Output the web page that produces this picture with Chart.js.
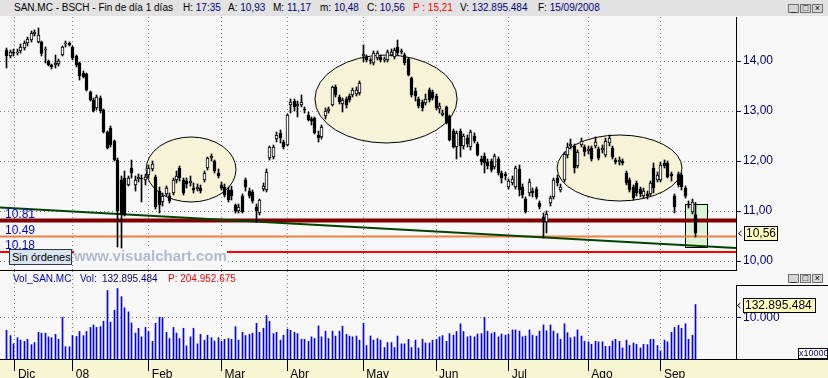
<!DOCTYPE html>
<html lang="es">
<head>
<meta charset="UTF-8" />
<title>SAN.MC - BSCH</title>
<script src="https://cdn.jsdelivr.net/npm/chart.js"></script>
<style>
  html, body { margin: 0; padding: 0; }
  body { width: 828px; height: 378px; overflow: hidden; position: relative; background: #f8f8f8;
         font-family: "Liberation Sans", Arial, sans-serif; }
  .abs { position: absolute; white-space: nowrap; }
  .hd { font-size: 10px; line-height: 12px; color: #000; }
  .nv { color: #000080; }
  .rd { color: #ff0000; }
  .bl { color: #0000cc; }
  .btn { width: 11px; height: 9px; box-sizing: border-box; border: 1px solid #707070; background: #d6d6d6;
         font-size: 9px; line-height: 7px; text-align: center; color: #000; }
</style>
</head>
<body>
  <div class="abs" style="left:0;top:0;width:828px;height:16px;background:#e2e2e2;"></div>
  <span class="abs hd" style="left:14px;top:2px;">SAN.MC - BSCH - Fin de día 1 días</span>
  <span class="abs hd" style="left:183px;top:2px;">H: <span class="nv">17:35</span></span>
  <span class="abs hd" style="left:228px;top:2px;">A: <span class="nv">10,93</span></span>
  <span class="abs hd" style="left:273px;top:2px;">M: <span class="nv">11,17</span></span>
  <span class="abs hd" style="left:320px;top:2px;">m: <span class="nv">10,48</span></span>
  <span class="abs hd" style="left:367px;top:2px;">C: <span class="nv">10,56</span></span>
  <span class="abs hd rd" style="left:413px;top:2px;">P : 15,21</span>
  <span class="abs hd" style="left:460px;top:2px;">V: <span class="nv">132.895.484</span></span>
  <span class="abs hd" style="left:538px;top:2px;">F: <span class="nv">15/09/2008</span></span>
  <div class="abs btn" style="left:788px;top:4px;">_</div>
  <div class="abs btn" style="left:800px;top:4px;">□</div>
  <div class="abs btn" style="left:812px;top:4px;">×</div>

  <div class="abs" style="left:0;top:359px;width:828px;height:19px;box-sizing:border-box;border-top:1px solid #000;background:#f6f6d3;"></div>
  <div class="abs" style="left:736px;top:285px;width:92px;height:75px;box-sizing:border-box;border-left:1px solid #000;border-top:1px solid #000;"></div>
  <div class="abs" style="left:0;top:270px;width:737px;height:1px;background:#000;"></div>

  <canvas id="priceChart" class="abs" width="828" height="253" style="left:0;top:17px;"></canvas>
  <canvas id="volChart" class="abs" width="828" height="107" style="left:0;top:271px;"></canvas>

  <div class="abs" style="left:9px;top:249px;width:63px;height:16px;box-sizing:border-box;border:1px solid #303848;background:#d8e4f0;font-size:11px;line-height:14px;padding-left:2px;">Sin órdenes</div>
  <div class="abs" style="left:74px;top:249px;font-size:15px;font-weight:bold;line-height:14px;color:#b2b9d2;background:#f8f8f8;">www.visualchart.com</div>

  <span class="abs hd bl" style="left:13px;top:273px;">Vol_SAN.MC</span>
  <span class="abs hd bl" style="left:80px;top:273px;">Vol:</span>
  <span class="abs hd nv" style="left:102px;top:273px;">132.895.484</span>
  <span class="abs hd rd" style="left:168px;top:273px;">P: 204.952.675</span>
  <div class="abs btn" style="left:788px;top:274px;">_</div>
  <div class="abs btn" style="left:800px;top:274px;">□</div>
  <div class="abs btn" style="left:812px;top:274px;">×</div>
  <div class="abs" style="left:798px;top:348px;width:30px;height:11px;box-sizing:border-box;border:1px solid #000;background:#fff;font-size:9px;line-height:9px;color:#000080;text-align:center;">x10000</div>

<script>
  // daily candles, 3 Dec 2007 .. 15 Sep 2008 (index 0..199)
  const opens = [
    14.22,14.10,14.18,14.16,14.20,14.26,14.36,14.42,14.54,14.38,
    14.38,14.22,14.00,13.92,13.92,13.94,14.12,14.34,14.36,14.28,
    14.10,13.96,13.76,13.74,13.38,13.22,13.06,13.26,13.02,12.58,
    12.66,12.40,12.02,11.62,11.66,11.52,11.86,11.52,11.64,11.66,
    11.62,11.72,11.84,11.68,11.40,11.18,11.34,11.30,11.36,11.62,
    11.86,11.62,11.60,11.56,11.46,11.44,11.46,11.62,11.86,12.06,
    12.00,11.76,11.52,11.48,11.42,11.42,11.12,11.00,11.30,11.62,
    11.40,11.38,11.08,10.96,11.44,11.42,12.06,12.08,12.44,12.56,
    12.38,12.32,13.12,13.20,13.10,13.12,13.04,12.92,12.84,12.86,
    12.52,12.48,12.90,13.00,13.12,13.48,13.28,13.14,13.24,13.30,
    13.32,13.34,13.36,14.10,14.08,14.02,13.96,14.06,14.08,14.02,
    14.02,14.12,14.08,14.28,14.20,14.12,14.04,13.66,13.40,13.24,
    13.18,13.16,13.42,13.38,13.30,13.04,12.92,13.08,12.90,12.60,
    12.28,12.60,12.30,12.46,12.28,12.50,12.34,12.04,12.10,11.98,
    12.00,11.88,12.04,11.76,11.74,11.48,11.56,11.48,11.84,11.48,
    11.24,11.36,11.40,11.44,11.16,10.88,10.78,11.16,11.28,11.66,
    11.42,11.62,12.12,12.30,12.30,11.90,12.32,12.28,12.20,12.26,
    12.30,12.24,12.22,12.12,12.36,12.26,12.02,11.98,12.00,11.76,
    11.62,11.48,11.56,11.44,11.30,11.34,11.34,11.86,11.62,11.62,
    11.96,11.96,11.74,11.30,11.74,11.72,11.46,11.14,10.98,10.93
  ];
  const highs = [
    14.26,14.22,14.24,14.24,14.34,14.40,14.48,14.60,14.62,14.66,
    14.40,14.28,14.02,13.94,14.12,14.04,14.30,14.40,14.38,14.30,
    14.12,13.98,13.80,13.76,13.40,13.26,13.32,13.30,13.04,12.60,
    12.70,12.42,12.06,11.70,11.80,11.70,12.02,11.70,11.74,11.72,
    11.74,11.92,12.00,11.72,11.48,11.36,11.50,11.36,11.66,11.80,
    11.90,11.66,11.66,11.70,11.56,11.54,11.52,11.80,12.08,12.14,
    12.02,11.84,11.58,11.54,11.48,11.50,11.14,11.14,11.34,11.66,
    11.46,11.42,11.14,11.24,11.56,11.84,12.30,12.32,12.58,12.62,
    12.42,12.94,13.24,13.24,13.20,13.32,13.08,12.98,12.88,12.88,
    12.60,12.72,13.06,13.08,13.50,13.52,13.32,13.26,13.28,13.34,
    13.46,13.48,13.60,14.32,14.12,14.06,14.20,14.20,14.12,14.08,
    14.22,14.24,14.26,14.42,14.24,14.16,14.06,13.68,13.46,13.28,
    13.22,13.34,13.46,13.42,13.34,13.16,13.02,13.10,12.92,12.64,
    12.60,12.64,12.54,12.52,12.62,12.56,12.38,12.10,12.16,12.04,
    12.04,12.14,12.08,11.80,11.78,11.64,11.70,11.90,11.92,11.54,
    11.28,11.64,11.46,11.48,11.20,10.96,11.00,11.30,11.66,11.72,
    11.54,12.18,12.36,12.44,12.34,12.22,12.46,12.32,12.30,12.30,
    12.48,12.28,12.32,12.46,12.52,12.30,12.06,12.08,12.04,11.80,
    11.66,11.52,11.60,11.48,11.46,11.40,11.60,11.96,11.78,11.98,
    12.02,12.00,11.78,11.34,11.78,11.76,11.50,11.20,11.24,11.17
  ];
  const lows = [
    13.86,14.06,14.10,14.12,14.16,14.22,14.30,14.38,14.50,14.36,
    14.10,13.96,13.90,13.84,13.86,13.90,14.10,14.28,14.30,14.02,
    13.88,13.62,13.66,13.40,13.20,12.98,13.02,12.96,12.56,12.24,
    12.28,12.00,10.28,10.26,10.90,11.50,11.66,11.40,11.58,11.18,
    11.52,11.66,11.80,11.04,10.96,11.10,11.30,11.16,11.32,11.56,
    11.60,11.32,11.46,11.50,11.36,11.40,11.36,11.58,11.82,12.00,
    11.76,11.66,11.42,11.28,11.18,11.22,10.96,10.96,10.96,11.40,
    11.26,11.16,10.78,10.92,11.40,11.38,12.02,12.04,12.38,12.36,
    12.24,12.30,12.96,13.00,12.88,13.08,12.96,12.80,12.72,12.54,
    12.38,12.44,12.84,12.96,13.10,13.28,13.14,12.98,13.06,13.18,
    13.28,13.30,13.32,13.98,13.98,13.94,13.92,14.02,13.98,13.98,
    13.98,14.10,14.04,14.12,14.14,13.92,13.70,13.28,13.20,13.06,
    13.00,13.12,13.18,13.22,13.02,12.96,12.90,12.74,12.40,12.26,
    12.04,12.08,12.24,12.28,12.22,12.36,12.10,11.92,11.76,11.84,
    11.78,11.84,11.72,11.56,11.62,11.44,11.52,11.44,11.30,11.26,
    10.96,11.30,11.28,11.24,11.04,10.46,10.56,11.10,11.24,11.50,
    11.38,11.58,12.06,12.24,11.76,11.86,12.28,12.10,12.14,12.00,
    12.26,12.02,12.16,12.08,12.30,12.04,11.94,11.92,11.92,11.52,
    11.38,11.22,11.30,11.28,11.26,11.24,11.30,11.36,11.58,11.58,
    11.86,11.66,11.60,10.96,11.48,11.42,11.26,11.06,10.94,10.48
  ];
  const closes = [
    14.10,14.18,14.16,14.18,14.28,14.36,14.44,14.56,14.58,14.52,
    14.15,14.24,13.92,13.88,13.96,14.00,14.28,14.36,14.32,14.06,
    13.92,13.70,13.68,13.42,13.22,13.00,13.28,13.00,12.58,12.26,
    12.32,12.02,11.00,10.95,10.92,11.66,11.76,11.62,11.68,11.64,
    11.68,11.86,11.94,11.08,11.12,11.30,11.46,11.20,11.62,11.70,
    11.66,11.36,11.54,11.60,11.42,11.48,11.40,11.76,12.06,12.10,
    11.80,11.70,11.46,11.32,11.22,11.30,11.00,11.08,10.98,11.48,
    11.30,11.20,11.00,11.22,11.50,11.78,12.28,12.28,12.52,12.46,
    12.28,12.92,13.18,13.08,13.14,13.18,13.02,12.82,12.80,12.56,
    12.46,12.68,13.00,13.04,13.48,13.32,13.18,13.22,13.12,13.22,
    13.42,13.42,13.56,14.14,14.02,14.00,14.16,14.16,14.02,14.04,
    14.18,14.18,14.22,14.16,14.18,13.96,13.72,13.32,13.30,13.10,
    13.06,13.24,13.22,13.26,13.06,13.10,12.96,12.76,12.42,12.28,
    12.56,12.30,12.50,12.34,12.58,12.40,12.12,11.98,11.96,11.90,
    11.82,12.10,11.76,11.66,11.70,11.60,11.64,11.86,11.42,11.32,
    10.98,11.58,11.36,11.28,11.08,10.82,10.94,11.26,11.62,11.56,
    11.48,12.14,12.28,12.34,11.86,12.18,12.40,12.18,12.24,12.04,
    12.38,12.06,12.26,12.40,12.46,12.08,11.98,12.02,11.96,11.56,
    11.42,11.26,11.36,11.34,11.40,11.30,11.56,11.46,11.72,11.92,
    11.90,11.68,11.70,11.08,11.52,11.48,11.30,11.12,11.18,10.56
  ];
  // volume in millions of shares
  const volumes = [
    70,57,37,52,46,43,48,35,40,65,
    63,63,54,52,60,48,102,30,30,57,
    55,67,57,67,77,83,77,79,92,167,
    90,119,172,152,125,115,88,63,75,54,
    77,67,43,87,102,101,65,50,77,63,
    50,75,32,54,75,37,60,46,58,52,
    44,52,43,48,50,48,79,46,65,57,
    60,63,87,65,75,106,92,62,65,46,
    58,73,70,65,62,48,48,43,54,50,
    81,54,68,50,68,56,68,80,60,56,
    54,56,46,87,33,56,46,50,46,28,
    40,40,28,56,37,37,48,28,46,27,
    48,39,39,46,48,54,57,43,62,58,
    67,86,67,54,56,54,61,62,102,68,
    62,65,54,61,58,61,71,71,68,54,
    56,71,58,56,68,83,69,83,68,62,
    48,86,64,52,54,71,56,43,42,36,
    43,42,42,31,31,44,48,43,27,46,
    33,39,36,27,36,35,48,48,33,20,
    46,42,65,77,82,75,86,48,58,132.895484
  ];

  const monthIdx = [2.3, 19, 41, 62, 81, 103, 124, 145, 168, 189];
  const monthLabels = ['Dic', '08', 'Feb', 'Mar', 'Abr', 'May', 'Jun', 'Jul', 'Ago', 'Sep'];
  const priceTicks = [10, 11, 12, 13, 14];
  const priceTickLabels = ['10,00', '11,00', '12,00', '13,00', '14,00'];
  const volTicks = [100];
  const volTickLabels = ['10.000'];

  // drawn studies
  const levelValues = [10.81, 10.49, 10.18];
  const levelColors = ['#800000', '#f08040', '#ff0000'];
  const levelWidths = [4, 2, 2];
  const trendX = [-2.02, 210.7];
  const trendY = [11.07, 10.26];
  const ellipseFrom = [40.2, 89, 159];
  const ellipseTo = [66.2, 130.1, 195.1];
  const ellipseTop = [12.48, 14.12, 12.52];
  const ellipseBottom = [11.18, 12.36, 11.20];
  const boxX = [196, 202.3];
  const boxY = [11.14, 10.28];

  const xMin = -2.02, xMax = 210.7;
  const idx = closes.map((c, i) => i);

  const fontFam = '"Liberation Sans", Arial, sans-serif';
  const dotted = [1, 3];

  function fixWidth(w) {
    return s => { s.width = w; s.paddingTop = 0; s.paddingBottom = 0; };
  }
  function fixHeight(h) {
    return s => { s.height = h; s.paddingLeft = 0; s.paddingRight = 0; };
  }
  function monthTicks(s) { s.ticks = monthIdx.map(v => ({ value: v })); }

  // snap bar centres to half pixels so the 1px wicks / volume bars stay sharp
  const crispPlugin = {
    id: 'crisp',
    afterDatasetsUpdate(chart) {
      chart.data.datasets.forEach((ds, i) => {
        const meta = chart.getDatasetMeta(i);
        if (meta.type !== 'bar') return;
        meta.data.forEach(el => { el.x = Math.floor(el.x) + 0.5; });
      });
    }
  };

  const overlayPlugin = {
    id: 'overlay',
    beforeDatasetsDraw(chart) {
      const { ctx, chartArea: a, scales: { x, y } } = chart;
      ctx.save();
      ctx.beginPath();
      ctx.rect(a.left, a.top, a.right - a.left, a.bottom - a.top);
      ctx.clip();
      ellipseFrom.forEach((f, k) => {
        const x0 = x.getPixelForValue(f), x1 = x.getPixelForValue(ellipseTo[k]);
        const y0 = y.getPixelForValue(ellipseTop[k]), y1 = y.getPixelForValue(ellipseBottom[k]);
        ctx.beginPath();
        ctx.ellipse((x0 + x1) / 2, (y0 + y1) / 2, (x1 - x0) / 2, (y1 - y0) / 2, 0, 0, Math.PI * 2);
        ctx.fillStyle = '#f6f3d8';
        ctx.fill();
        ctx.lineWidth = 1;
        ctx.strokeStyle = '#000';
        ctx.stroke();
      });
      const bx0 = Math.round(x.getPixelForValue(boxX[0])) + 0.5;
      const bx1 = Math.round(x.getPixelForValue(boxX[1])) + 0.5;
      const by0 = Math.round(y.getPixelForValue(boxY[0])) + 0.5;
      const by1 = Math.round(y.getPixelForValue(boxY[1])) + 0.5;
      ctx.fillStyle = '#ddf3d8';
      ctx.fillRect(bx0, by0, bx1 - bx0, by1 - by0);
      ctx.strokeStyle = '#000';
      ctx.strokeRect(bx0, by0, bx1 - bx0, by1 - by0);
      ctx.restore();
    },
    afterDatasetsDraw(chart) {
      const { ctx, chartArea: a, scales: { y } } = chart;
      ctx.save();
      ctx.font = '12px ' + fontFam;
      ctx.fillStyle = '#0000ff';
      ctx.textBaseline = 'alphabetic';
      levelValues.forEach(v => ctx.fillText(v.toFixed(2), a.left + 5, Math.round(y.getPixelForValue(v)) - 3));

      const last = closes[closes.length - 1];
      const py = Math.round(y.getPixelForValue(last));
      drawTag(ctx, a.right, py, last.toFixed(2).replace('.', ','), 33);
      ctx.restore();
    }
  };

  function drawTag(ctx, right, py, text, w) {
    ctx.strokeStyle = '#000';
    ctx.lineWidth = 1;
    ctx.beginPath();
    ctx.moveTo(right + 5.5, py - 2);
    ctx.lineTo(right + 2.5, py + 0.5);
    ctx.lineTo(right + 5.5, py + 3);
    ctx.stroke();
    ctx.fillStyle = '#ffffc0';
    ctx.fillRect(right + 8.5, py - 6.5, w, 14);
    ctx.strokeRect(right + 8.5, py - 6.5, w, 14);
    ctx.fillStyle = '#000';
    ctx.font = '12px ' + fontFam;
    ctx.textBaseline = 'middle';
    ctx.fillText(text, right + 10, py + 1);
  }

  const volTagPlugin = {
    id: 'volTag',
    afterDatasetsDraw(chart) {
      const { ctx, chartArea: a, scales: { y } } = chart;
      const v = volumes[volumes.length - 1];
      const txt = String(Math.round(v * 1e6)).replace(/\B(?=(\d{3})+(?!\d))/g, '.');
      ctx.save();
      drawTag(ctx, a.right - 1, Math.round(y.getPixelForValue(v)), txt, 72);
      ctx.restore();
    }
  };

  const lineSets = levelValues.map((v, k) => ({
    type: 'line',
    data: [{ x: xMin, y: v }, { x: xMax, y: v }],
    borderColor: levelColors[k],
    borderWidth: levelWidths[k],
    pointRadius: 0,
    order: 10
  }));
  lineSets.push({
    type: 'line',
    data: trendX.map((v, k) => ({ x: v, y: trendY[k] })),
    borderColor: '#004400',
    borderWidth: 2,
    pointRadius: 0,
    order: 9
  });

  new Chart(document.getElementById('priceChart'), {
    type: 'bar',
    data: {
      datasets: [
        {
          data: idx.map(i => ({ x: i, y: [lows[i], highs[i]] })),
          backgroundColor: '#000',
          barThickness: 1,
          grouped: false,
          order: 2
        },
        {
          data: idx.map(i => ({ x: i, y: [Math.min(opens[i], closes[i]), Math.max(opens[i], closes[i])] })),
          backgroundColor: idx.map(i => closes[i] >= opens[i] ? '#ffffff' : '#000000'),
          borderColor: '#000',
          borderWidth: 1,
          borderSkipped: false,
          barThickness: 3,
          grouped: false,
          order: 1
        },
        ...lineSets
      ]
    },
    options: {
      responsive: false,
      animation: false,
      devicePixelRatio: 1,
      events: [],
      layout: { padding: 0, autoPadding: false },
      plugins: { legend: { display: false }, tooltip: { enabled: false } },
      scales: {
        x: {
          type: 'linear', min: xMin, max: xMax, offset: false,
          afterBuildTicks: monthTicks,
          afterFit: fixHeight(0),
          ticks: { display: false },
          grid: { color: '#808080', drawTicks: false, offset: false },
          border: { display: false, dash: dotted }
        },
        y: {
          position: 'right', min: 9.82, max: 14.88,
          afterBuildTicks: s => { s.ticks = priceTicks.map(v => ({ value: v })); },
          afterFit: fixWidth(92),
          ticks: {
            color: '#000080', padding: 2,
            font: { family: fontFam, size: 12 },
            callback: (v, i) => priceTickLabels[i]
          },
          grid: { color: '#808080', tickColor: '#000080', tickLength: 5, tickBorderDash: [] },
          border: { display: true, color: '#000', width: 1, dash: dotted }
        }
      }
    },
    plugins: [crispPlugin, overlayPlugin]
  });

  new Chart(document.getElementById('volChart'), {
    type: 'bar',
    data: {
      datasets: [{
        data: idx.map(i => ({ x: i, y: volumes[i] })),
        backgroundColor: '#0000ff',
        barThickness: 1,
        grouped: false
      }]
    },
    options: {
      responsive: false,
      animation: false,
      devicePixelRatio: 1,
      events: [],
      layout: { padding: 0, autoPadding: false },
      plugins: { legend: { display: false }, tooltip: { enabled: false } },
      scales: {
        x: {
          type: 'linear', min: xMin, max: xMax, offset: false,
          afterBuildTicks: monthTicks,
          afterFit: fixHeight(19),
          ticks: {
            color: '#000', align: 'start', labelOffset: 3, padding: -4,
            autoSkip: false, maxRotation: 0,
            font: { family: fontFam, size: 12 },
            callback: (v, i) => monthLabels[i]
          },
          grid: { color: '#808080', offset: false, tickColor: '#000', tickLength: 12, tickBorderDash: [] },
          border: { display: false, dash: dotted }
        },
        y: {
          position: 'right', min: 0, max: 214.6,
          afterBuildTicks: s => { s.ticks = volTicks.map(v => ({ value: v })); },
          afterFit: fixWidth(92),
          ticks: {
            color: '#000080', padding: 2,
            font: { family: fontFam, size: 12 },
            callback: (v, i) => volTickLabels[i]
          },
          grid: { color: '#808080', tickColor: '#000080', tickLength: 5, tickBorderDash: [] },
          border: { display: false, dash: dotted }
        }
      }
    },
    plugins: [crispPlugin, volTagPlugin]
  });
</script>
</body>
</html>
